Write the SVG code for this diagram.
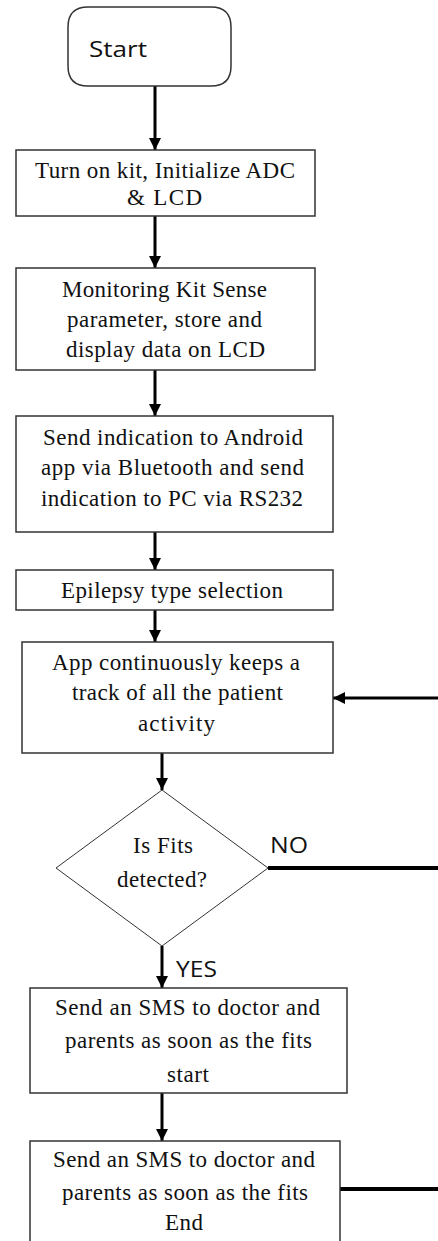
<svg xmlns="http://www.w3.org/2000/svg" width="438" height="1241" viewBox="0 0 438 1241">
  <style>
    .box { fill: #ffffff; stroke: #333333; stroke-width: 1.5; }
    .dia { fill: #ffffff; stroke: #333333; stroke-width: 1; }
    .t { font-family: "Liberation Serif", "Times New Roman", serif; font-size: 23px; fill: #111111; }
    .s { font-family: "Open Sans", "Liberation Sans", sans-serif; font-size: 22px; fill: #111111; }
    .flow { stroke: #000000; stroke-width: 3; fill: none; }
    .thick { stroke: #000000; stroke-width: 4; fill: none; }
  </style>
  <defs>
    <marker id="arrow" viewBox="0 0 10 10" refX="10" refY="5" markerWidth="4" markerHeight="4" orient="auto" markerUnits="strokeWidth">
      <path d="M0,0 L10,5 L0,10 z" fill="#000000"/>
    </marker>
  </defs>
  <rect width="438" height="1241" fill="#ffffff"/>

  <g id="connectors">
    <line class="flow" x1="155" y1="86" x2="155" y2="150" marker-end="url(#arrow)"/>
    <line class="flow" x1="155" y1="216" x2="155" y2="268" marker-end="url(#arrow)"/>
    <line class="flow" x1="155" y1="370" x2="155" y2="416" marker-end="url(#arrow)"/>
    <line class="flow" x1="155" y1="532" x2="155" y2="570" marker-end="url(#arrow)"/>
    <line class="flow" x1="155" y1="610" x2="155" y2="642" marker-end="url(#arrow)"/>
    <line class="flow" x1="162" y1="753" x2="162" y2="790" marker-end="url(#arrow)"/>
    <line class="flow" x1="162" y1="946" x2="162" y2="988" marker-end="url(#arrow)"/>
    <line class="flow" x1="162" y1="1093" x2="162" y2="1141" marker-end="url(#arrow)"/>
    <line class="flow" x1="438" y1="698" x2="333" y2="698" marker-end="url(#arrow)"/>
    <line class="thick" x1="268" y1="868" x2="438" y2="868"/>
    <line class="thick" x1="340" y1="1189" x2="438" y2="1189"/>
    <text class="s" x="270" y="853" textLength="38" lengthAdjust="spacingAndGlyphs">NO</text>
    <text class="s" x="176" y="977" textLength="41" lengthAdjust="spacingAndGlyphs">YES</text>
  </g>

  <g id="start">
    <path class="box" d="M88,7 H211 Q231,7 231,27 V66 Q231,86 211,86 H88 Q68,86 68,66 V27 Q68,7 88,7 Z"/>
    <text class="s" x="89" y="57" font-size="26" textLength="58" lengthAdjust="spacingAndGlyphs">Start</text>
  </g>

  <g id="init">
    <rect class="box" x="16" y="150" width="299" height="66"/>
    <text class="t" x="35" y="178" textLength="260">Turn on kit, Initialize ADC</text>
    <text class="t" x="127" y="205" textLength="75">&amp; LCD</text>
  </g>

  <g id="monitor">
    <rect class="box" x="16" y="268" width="299" height="102"/>
    <text class="t" x="62" y="297" textLength="205">Monitoring Kit Sense</text>
    <text class="t" x="67" y="327" textLength="195">parameter, store and</text>
    <text class="t" x="66" y="357" textLength="199">display data on LCD</text>
  </g>

  <g id="send-indication">
    <rect class="box" x="16" y="416" width="317" height="116"/>
    <text class="t" x="43" y="445" textLength="260">Send indication to Android</text>
    <text class="t" x="41" y="475" textLength="263">app via Bluetooth and send</text>
    <text class="t" x="41" y="506" textLength="262">indication to PC via RS232</text>
  </g>

  <g id="epilepsy-type">
    <rect class="box" x="16" y="570" width="317" height="40"/>
    <text class="t" x="61" y="598" textLength="222">Epilepsy type selection</text>
  </g>

  <g id="track">
    <rect class="box" x="22" y="642" width="311" height="111"/>
    <text class="t" x="52" y="670" textLength="248">App continuously keeps a</text>
    <text class="t" x="72" y="700" textLength="211">track of all  the patient</text>
    <text class="t" x="138" y="731" textLength="77">activity</text>
  </g>

  <g id="decision">
    <polygon class="dia" points="162,790 268,868 162,946 56,868"/>
    <text class="t" x="133" y="853" textLength="60">Is Fits</text>
    <text class="t" x="117" y="887" textLength="90">detected?</text>
  </g>

  <g id="sms-start">
    <rect class="box" x="30" y="988" width="317" height="105"/>
    <text class="t" x="55" y="1015" textLength="265">Send an SMS to doctor and</text>
    <text class="t" x="65" y="1048" textLength="247">parents as soon as the fits</text>
    <text class="t" x="167" y="1082" textLength="42">start</text>
  </g>

  <g id="sms-end">
    <rect class="box" x="30" y="1141" width="310" height="110"/>
    <text class="t" x="53" y="1167" textLength="262">Send an SMS to doctor and</text>
    <text class="t" x="62" y="1200" textLength="246">parents as soon as the fits</text>
    <text class="t" x="165" y="1230" textLength="38">End</text>
  </g>
</svg>
